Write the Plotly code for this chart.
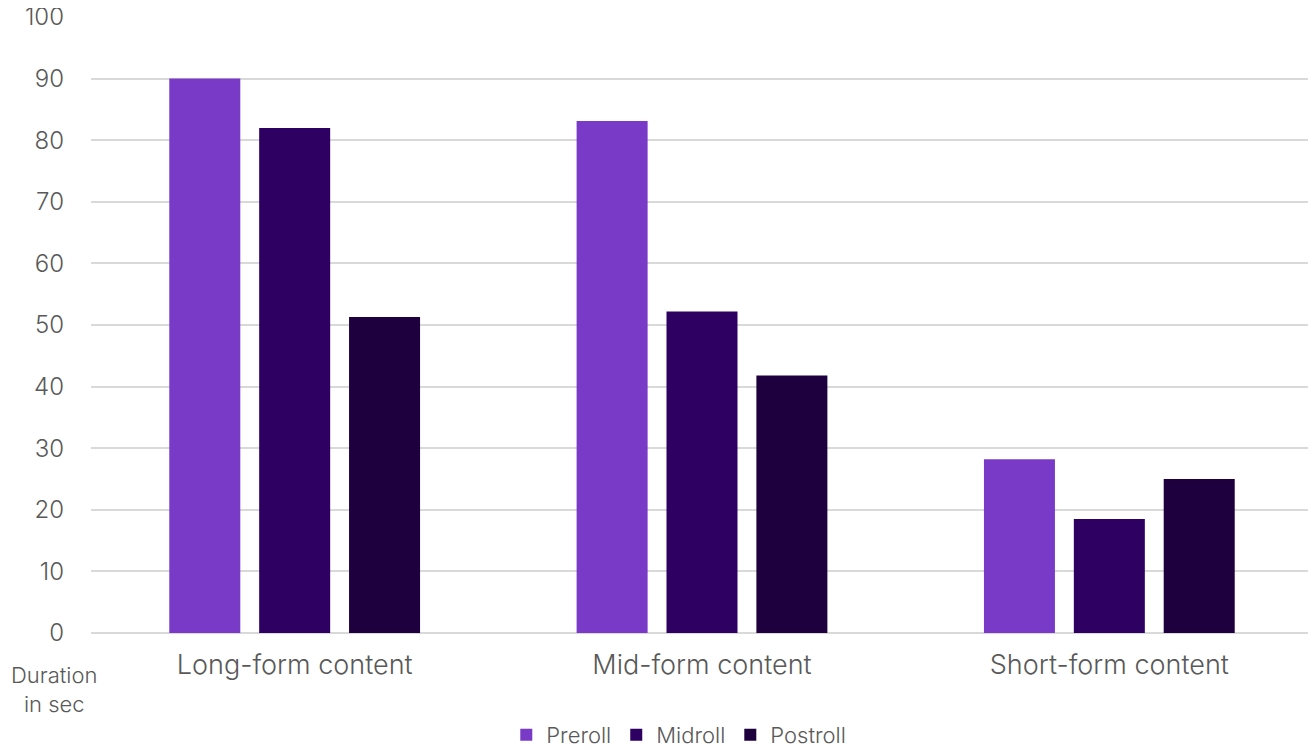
import plotly.graph_objects as go

categories = ["Long-form content", "Mid-form content", "Short-form content"]
preroll = [90.0, 83.1, 28.2]
midroll = [82.0, 52.2, 18.5]
postroll = [51.3, 41.8, 25.0]
series_names = ["Preroll", "Midroll", "Postroll"]
colors = ["#7A3AC8", "#2E0062", "#1E003F"]

FONT = "Inter"
GREY = "#595959"

fig = go.Figure()
for name, vals, c in zip(series_names, [preroll, midroll, postroll], colors):
    fig.add_trace(go.Bar(name=name, x=categories, y=vals, marker_color=c,
                         marker_line_width=0))

fig.update_layout(
    width=1316, height=750,
    barmode="group", bargap=0.338, bargroupgap=0.21,
    plot_bgcolor="white", paper_bgcolor="white",
    margin=dict(l=83, r=11, t=9, b=125, autoexpand=False),
    font=dict(family=FONT, color=GREY, size=20, weight=300),
    legend=dict(orientation="h", x=0.481, xanchor="center", y=-0.1656, yanchor="middle",
                font=dict(size=22, color=GREY, weight=300), itemwidth=30, traceorder="normal"),
    showlegend=True,
)
fig.update_yaxes(range=[0, 100], dtick=10, showgrid=True, gridcolor="#d9d9d9", gridwidth=1.5,
                 zeroline=True, zerolinecolor="#d9d9d9", zerolinewidth=1.5, automargin=False,
                 ticklabeloverflow="allow",
                 tickfont=dict(size=24, color=GREY, weight=300), ticklabelstandoff=26)
fig.update_xaxes(showline=False, automargin=False, ticklabeloverflow="allow",
                 tickfont=dict(size=27, color=GREY, weight=300), ticklabelstandoff=13)

fig.add_annotation(text="Duration<br>in sec", xref="paper", yref="paper", x=-0.0675, y=-0.0925,
                   xanchor="left", yanchor="middle", showarrow=False, align="center",
                   font=dict(size=22, color=GREY, weight=300))

fig.write_html("out.html")
